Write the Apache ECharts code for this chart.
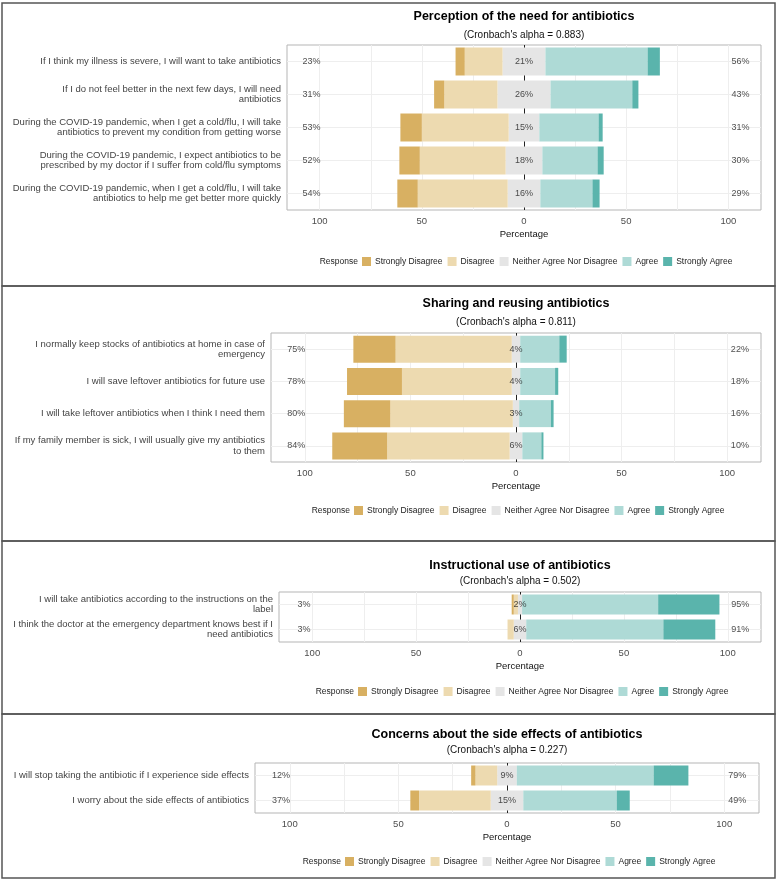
<!DOCTYPE html>
<html>
<head>
<meta charset="utf-8">
<script src="https://cdn.jsdelivr.net/npm/echarts@6/dist/echarts.min.js"></script>
<style>
  html, body { margin: 0; padding: 0; background: #fff; }
  #chart { width: 777px; height: 881px; }
</style>
</head>
<body>
<div id="chart"></div>
<script>
  const responses = ['Strongly Disagree', 'Disagree', 'Neither Agree Nor Disagree', 'Agree', 'Strongly Agree']
  const colors = ['#D8B062', '#EDDAB0', '#E5E5E5', '#AEDAD6', '#5AB4AC']
  const xTicks = [-100, -50, 0, 50, 100]
  const xGrid = [-100, -75, -50, -25, 25, 50, 75, 100]

  // Perception of the need for antibiotics
  const perceptionItems = [
    'If I think my illness is severe, I will want to take antibiotics',
    'If I do not feel better in the next few days, I will need\nantibiotics',
    'During the COVID-19 pandemic, when I get a cold/flu, I will take\nantibiotics to prevent my condition from getting worse',
    'During the COVID-19 pandemic, I expect antibiotics to be\nprescribed by my doctor if I suffer from cold/flu symptoms',
    'During the COVID-19 pandemic, when I get a cold/flu, I will take\nantibiotics to help me get better more quickly'
  ]
  const perceptionSD = [4.5, 5, 10.5, 10, 10]
  const perceptionD = [18.5, 26, 42.5, 42, 44]
  const perceptionN = [21, 26, 15, 18, 16]
  const perceptionA = [50, 40, 29, 27, 25.5]
  const perceptionSA = [6, 3, 2, 3, 3.5]
  const perceptionLow = ['23%', '31%', '53%', '52%', '54%']
  const perceptionMid = ['21%', '26%', '15%', '18%', '16%']
  const perceptionHigh = ['56%', '43%', '31%', '30%', '29%']

  // Sharing and reusing antibiotics
  const sharingItems = [
    'I normally keep stocks of antibiotics at home in case of\nemergency',
    'I will save leftover antibiotics for future use',
    'I will take leftover antibiotics when I think I need them',
    'If my family member is sick, I will usually give my antibiotics\nto them'
  ]
  const sharingSD = [20, 26, 22, 26]
  const sharingD = [55, 52, 58, 58]
  const sharingN = [4, 4, 3, 6]
  const sharingA = [18.5, 16.5, 15, 9]
  const sharingSA = [3.5, 1.5, 1.3, 1]
  const sharingLow = ['75%', '78%', '80%', '84%']
  const sharingMid = ['4%', '4%', '3%', '6%']
  const sharingHigh = ['22%', '18%', '16%', '10%']

  // Instructional use of antibiotics
  const instructionItems = [
    'I will take antibiotics according to the instructions on the\nlabel',
    'I think the doctor at the emergency department knows best if I\nneed antibiotics'
  ]
  const instructionSD = [1, 0]
  const instructionD = [2, 3]
  const instructionN = [2, 6]
  const instructionA = [65.5, 66]
  const instructionSA = [29.5, 25]
  const instructionLow = ['3%', '3%']
  const instructionMid = ['2%', '6%']
  const instructionHigh = ['95%', '91%']

  // Concerns about the side effects of antibiotics
  const sideEffectItems = [
    'I will stop taking the antibiotic if I experience side effects',
    'I worry about the side effects of antibiotics'
  ]
  const sideEffectSD = [2, 4]
  const sideEffectD = [10, 33]
  const sideEffectN = [9, 15]
  const sideEffectA = [63, 43]
  const sideEffectSA = [16, 6]
  const sideEffectLow = ['12%', '37%']
  const sideEffectMid = ['9%', '15%']
  const sideEffectHigh = ['79%', '49%']

  const panels = [
    { title: 'Perception of the need for antibiotics', sub: "(Cronbach's alpha = 0.883)", cats: perceptionItems,
      sd: perceptionSD, d: perceptionD, n: perceptionN, a: perceptionA, sa: perceptionSA,
      low: perceptionLow, mid: perceptionMid, high: perceptionHigh },
    { title: 'Sharing and reusing antibiotics', sub: "(Cronbach's alpha = 0.811)", cats: sharingItems,
      sd: sharingSD, d: sharingD, n: sharingN, a: sharingA, sa: sharingSA,
      low: sharingLow, mid: sharingMid, high: sharingHigh },
    { title: 'Instructional use of antibiotics', sub: "(Cronbach's alpha = 0.502)", cats: instructionItems,
      sd: instructionSD, d: instructionD, n: instructionN, a: instructionA, sa: instructionSA,
      low: instructionLow, mid: instructionMid, high: instructionHigh },
    { title: 'Concerns about the side effects of antibiotics', sub: "(Cronbach's alpha = 0.227)", cats: sideEffectItems,
      sd: sideEffectSD, d: sideEffectD, n: sideEffectN, a: sideEffectA, sa: sideEffectSA,
      low: sideEffectLow, mid: sideEffectMid, high: sideEffectHigh }
  ]

  // pixel layout of each panel
  const layouts = [
    { x0: 287, x1: 761, y0: 45, y1: 210, bar: 28, titleY: 17, subY: 35, legendY: 262, boxTop: 3, boxBottom: 286 },
    { x0: 271, x1: 761, y0: 333, y1: 462, bar: 27, titleY: 304, subY: 322, legendY: 511, boxTop: 286, boxBottom: 541 },
    { x0: 279, x1: 761, y0: 592, y1: 642, bar: 20, titleY: 566, subY: 581, legendY: 692, boxTop: 541, boxBottom: 714 },
    { x0: 255, x1: 759, y0: 763, y1: 813, bar: 20, titleY: 735, subY: 750, legendY: 862, boxTop: 714, boxBottom: 878 }
  ]

  const FONT = '"Liberation Sans", Arial, sans-serif'
  const LOW_X = -104
  const HIGH_X = 106

  const grids = []
  const xAxes = []
  const yAxes = []
  const series = []
  const legends = []
  const graphics = []

  panels.forEach((p, i) => {
    const L = layouts[i]
    const cx = (L.x0 + L.x1) / 2
    const stack = 'likert' + i

    grids.push({
      left: L.x0, top: L.y0, width: L.x1 - L.x0, height: L.y1 - L.y0,
      show: true, borderColor: '#B5B5B5', borderWidth: 1, backgroundColor: 'transparent'
    })

    xAxes.push({
      gridIndex: i,
      type: 'value',
      min: -116,
      max: 116,
      axisLine: { show: false },
      axisTick: { show: false },
      splitLine: { show: false },
      axisLabel: {
        customValues: xTicks,
        formatter: v => String(Math.abs(v)),
        color: '#4d4d4d',
        fontSize: 9.5,
        fontFamily: FONT,
        margin: 6
      },
      name: 'Percentage',
      nameLocation: 'middle',
      nameGap: 19,
      nameTextStyle: { color: '#111', fontSize: 9.5, fontFamily: FONT }
    })

    yAxes.push({
      gridIndex: i,
      type: 'category',
      data: p.cats,
      inverse: true,
      axisLine: { show: false },
      axisTick: { show: false },
      splitLine: { show: false },
      axisLabel: {
        color: '#444',
        fontSize: 9.5,
        fontFamily: FONT,
        lineHeight: 10.5,
        margin: 6,
        align: 'right'
      }
    })

    const barBase = {
      type: 'bar',
      stack: stack,
      xAxisIndex: i,
      yAxisIndex: i,
      barWidth: L.bar,
      z: 2,
      silent: true
    }
    // negative side: half of neutral, disagree, strongly disagree
    series.push({ ...barBase, name: responses[2], itemStyle: { color: colors[2] }, data: p.n.map(v => -v / 2) })
    series.push({ ...barBase, name: responses[1], itemStyle: { color: colors[1] }, data: p.d.map(v => -v) })
    series.push({ ...barBase, name: responses[0], itemStyle: { color: colors[0] }, data: p.sd.map(v => -v) })
    // positive side
    series.push({ ...barBase, name: responses[2], itemStyle: { color: colors[2] }, data: p.n.map(v => v / 2) })
    series.push({ ...barBase, name: responses[3], itemStyle: { color: colors[3] }, data: p.a })
    series.push({ ...barBase, name: responses[4], itemStyle: { color: colors[4] }, data: p.sa })

    // grid lines and the zero line, drawn under the bars
    const gridLines = xGrid.map(v => ({ xAxis: v, lineStyle: { color: '#EEEEEE', width: 1, type: 'solid' } }))
    p.cats.forEach((c, k) => gridLines.push({ yAxis: k, lineStyle: { color: '#EEEEEE', width: 1, type: 'solid' } }))
    gridLines.push({ xAxis: 0, lineStyle: { color: '#222', width: 1, type: 'solid' } })
    series.push({
      type: 'line',
      xAxisIndex: i,
      yAxisIndex: i,
      data: [],
      z: 1,
      silent: true,
      markLine: { z: 1, symbol: 'none', silent: true, animation: false, label: { show: false }, data: gridLines }
    })

    // percentage labels
    const labelData = []
    p.cats.forEach((c, k) => {
      labelData.push([LOW_X, k, p.low[k]])
      labelData.push([0, k, p.mid[k]])
      labelData.push([HIGH_X, k, p.high[k]])
    })
    series.push({
      type: 'scatter',
      xAxisIndex: i,
      yAxisIndex: i,
      data: labelData,
      symbolSize: 1,
      itemStyle: { color: 'rgba(0,0,0,0)' },
      z: 3,
      silent: true,
      label: {
        show: true,
        position: 'inside',
        formatter: q => q.value[2],
        color: '#222',
        fontSize: 9,
        fontFamily: FONT
      }
    })

    legends.push({
      left: cx - 162,
      top: L.legendY - 5,
      padding: 0,
      itemWidth: 9,
      itemHeight: 9,
      itemGap: 5,
      icon: 'rect',
      selectedMode: false,
      data: responses,
      textStyle: { fontSize: 8.5, color: '#222', fontFamily: FONT, padding: [0, 0, 0, -1] }
    })

    graphics.push({
      type: 'text', x: cx - 166, y: L.legendY,
      style: { text: 'Response', font: '8.5px ' + FONT, fill: '#222', align: 'right', verticalAlign: 'middle' }
    })
    graphics.push({
      type: 'text', x: cx, y: L.titleY,
      style: { text: p.title, font: 'bold 12.5px ' + FONT, fill: '#000', align: 'center', verticalAlign: 'middle' }
    })
    graphics.push({
      type: 'text', x: cx, y: L.subY,
      style: { text: p.sub, font: '10px ' + FONT, fill: '#111', align: 'center', verticalAlign: 'middle' }
    })
    graphics.push({
      type: 'rect',
      shape: { x: 2, y: L.boxTop, width: 773, height: L.boxBottom - L.boxTop },
      style: { fill: 'none', stroke: '#555', lineWidth: 1.5 },
      silent: true
    })
  })

  const chart = echarts.init(document.getElementById('chart'))
  chart.setOption({
    animation: false,
    backgroundColor: '#fff',
    textStyle: { fontFamily: FONT },
    grid: grids,
    xAxis: xAxes,
    yAxis: yAxes,
    legend: legends,
    graphic: graphics,
    series: series
  })
</script>
</body>
</html>
